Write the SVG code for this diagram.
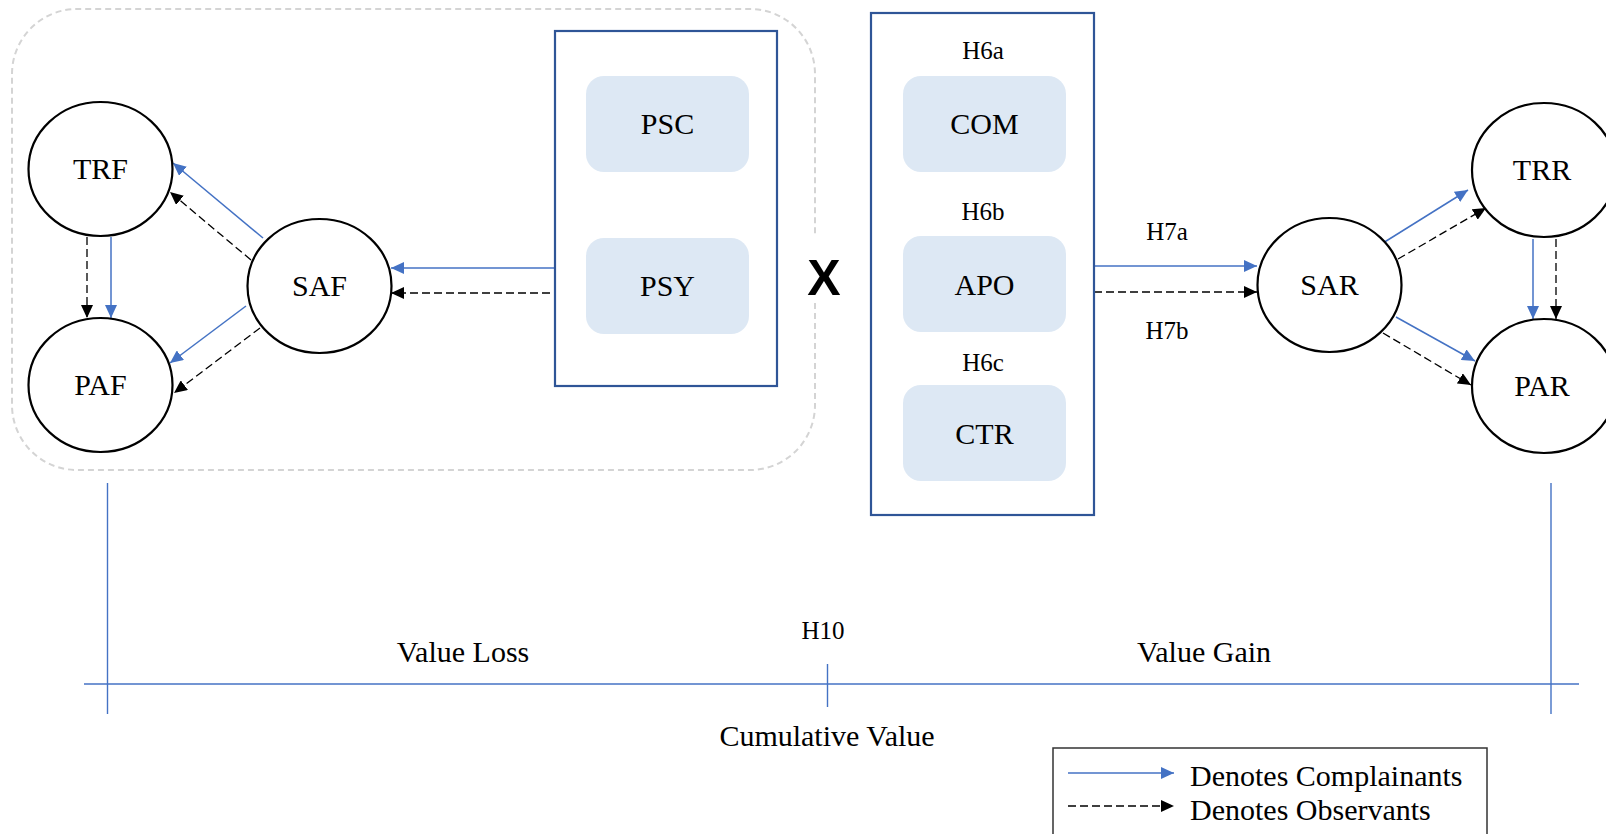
<svg xmlns="http://www.w3.org/2000/svg" width="1606" height="834" viewBox="0 0 1606 834">
<style>
.t{font-family:"Liberation Serif","Times New Roman",serif;fill:#000;text-anchor:middle}
.n{font-size:30px}
.h{font-size:25px}
.b{font-size:30px}
.c{fill:#fff;stroke:#000;stroke-width:2.2}
.box{fill:#fff;stroke:#2f5597;stroke-width:2.2}
.lb{fill:#dde8f4;stroke:none}
.bl{stroke:#4472c4;stroke-width:1.5;fill:none;marker-end:url(#ab)}
.dl{stroke:#000;stroke-width:1.3;stroke-dasharray:8 4;fill:none;marker-end:url(#ak)}
.ax{stroke:#4472c4;stroke-width:1.4;fill:none}
</style>
<defs>
<marker id="ab" markerUnits="userSpaceOnUse" markerWidth="13" markerHeight="12" refX="13" refY="6" orient="auto"><path d="M0,0 L13,6 L0,12 z" fill="#4472c4"/></marker>
<marker id="ak" markerUnits="userSpaceOnUse" markerWidth="13" markerHeight="12" refX="13" refY="6" orient="auto"><path d="M0,0 L13,6 L0,12 z" fill="#000"/></marker>
</defs>
<rect width="1606" height="834" fill="#fff"/>
<path id="group-frame" d="M815,303 L815,405 A65,65 0 0 1 750,470 L77,470 A65,65 0 0 1 12,405 L12,74 A65,65 0 0 1 77,9 L750,9 A65,65 0 0 1 815,74 L815,235" fill="none" stroke="#d4d4d4" stroke-width="2" stroke-dasharray="6 4"/>
<g id="connectors">
<line class="bl" x1="263" y1="238" x2="173" y2="163"/>
<line class="dl" x1="251" y1="260" x2="170" y2="192"/>
<line class="dl" x1="87" y1="237" x2="87" y2="318"/>
<line class="bl" x1="111" y1="237" x2="111" y2="318"/>
<line class="bl" x1="246" y1="306" x2="170" y2="363"/>
<line class="dl" x1="260" y1="328" x2="174" y2="393"/>
<line class="bl" x1="554" y1="268" x2="391" y2="268"/>
<line class="dl" x1="550" y1="293" x2="391" y2="293"/>
<line class="bl" x1="1094" y1="266" x2="1257" y2="266"/>
<line class="dl" x1="1094" y1="292" x2="1257" y2="292"/>
<line class="bl" x1="1383" y1="243" x2="1468" y2="190"/>
<line class="dl" x1="1398" y1="259" x2="1486" y2="208"/>
<line class="bl" x1="1533" y1="239" x2="1533" y2="319"/>
<line class="dl" x1="1556" y1="239" x2="1556" y2="319"/>
<line class="bl" x1="1396" y1="317" x2="1475" y2="361"/>
<line class="dl" x1="1383" y1="333" x2="1471" y2="385"/>
</g>
<g id="TRF"><ellipse class="c" cx="100.5" cy="169" rx="72" ry="67"/><text class="t n" x="100.5" y="179">TRF</text></g>
<g id="PAF"><ellipse class="c" cx="100.5" cy="385" rx="72" ry="67"/><text class="t n" x="100.5" y="395">PAF</text></g>
<g id="SAF"><ellipse class="c" cx="319.5" cy="286" rx="72" ry="67"/><text class="t n" x="319.5" y="296">SAF</text></g>
<g id="mod-box-left">
<rect class="box" x="555" y="31" width="222" height="355"/>
<g id="PSC"><rect class="lb" x="586" y="76" width="163" height="96" rx="18"/><text class="t n" x="667.5" y="134">PSC</text></g>
<g id="PSY"><rect class="lb" x="586" y="238" width="163" height="96" rx="18"/><text class="t n" x="667.5" y="296">PSY</text></g>
</g>
<text x="824" y="295" font-family="'Liberation Sans',Arial,sans-serif" font-weight="bold" font-size="50" text-anchor="middle">X</text>
<g id="mod-box-right">
<rect class="box" x="871" y="13" width="223" height="502"/>
<text class="t h" x="983" y="59">H6a</text>
<g id="COM"><rect class="lb" x="903" y="76" width="163" height="96" rx="18"/><text class="t n" x="984.5" y="134">COM</text></g>
<text class="t h" x="983" y="220">H6b</text>
<g id="APO"><rect class="lb" x="903" y="236" width="163" height="96" rx="18"/><text class="t n" x="984.5" y="295">APO</text></g>
<text class="t h" x="983" y="371">H6c</text>
<g id="CTR"><rect class="lb" x="903" y="385" width="163" height="96" rx="18"/><text class="t n" x="984.5" y="444">CTR</text></g>
</g>
<text class="t h" x="1167" y="240">H7a</text>
<text class="t h" x="1167" y="339">H7b</text>
<g id="SAR"><ellipse class="c" cx="1329.5" cy="285" rx="72" ry="67"/><text class="t n" x="1329.5" y="295">SAR</text></g>
<g id="TRR"><ellipse class="c" cx="1544" cy="170" rx="72" ry="67"/><text class="t n" x="1542" y="180">TRR</text></g>
<g id="PAR"><ellipse class="c" cx="1544" cy="386" rx="72" ry="67"/><text class="t n" x="1542" y="396">PAR</text></g>
<g id="axis">
<line class="ax" x1="84" y1="684" x2="1579" y2="684" stroke-width="2"/>
<line class="ax" x1="107.5" y1="483" x2="107.5" y2="714"/>
<line class="ax" x1="1551" y1="483" x2="1551" y2="714"/>
<line class="ax" x1="827.5" y1="664" x2="827.5" y2="707"/>
<text class="t h" x="823" y="639">H10</text>
<text class="t b" x="463" y="662">Value Loss</text>
<text class="t b" x="1204" y="662">Value Gain</text>
<text class="t b" x="827" y="746">Cumulative Value</text>
</g>
<g id="legend">
<rect x="1053" y="748" width="434" height="100" fill="#fff" stroke="#333" stroke-width="1.5"/>
<line class="bl" x1="1068" y1="773" x2="1174" y2="773"/>
<line class="dl" x1="1068" y1="806" x2="1174" y2="806"/>
<text class="t b" x="1190" y="786" style="text-anchor:start">Denotes Complainants</text>
<text class="t b" x="1190" y="820" style="text-anchor:start">Denotes Observants</text>
</g>
</svg>
